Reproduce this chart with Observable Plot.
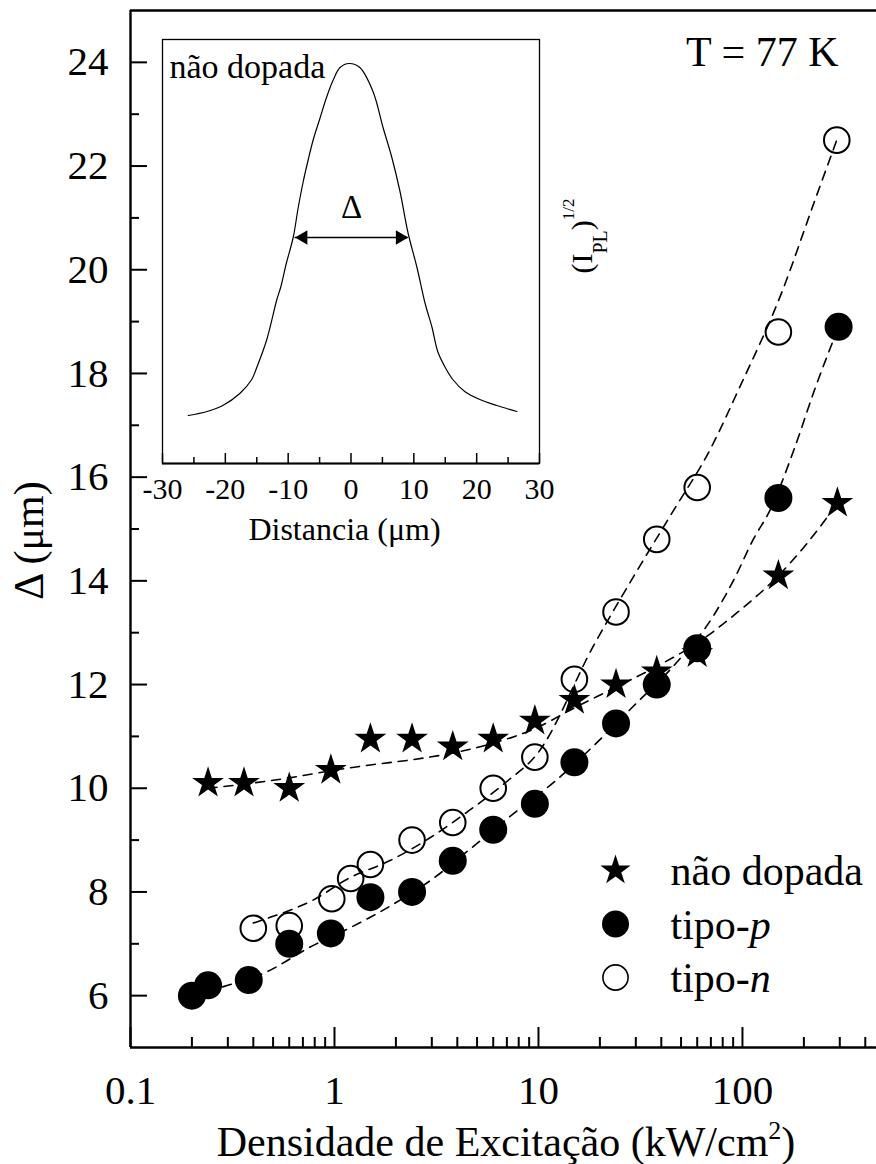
<!DOCTYPE html>
<html><head><meta charset="utf-8">
<script src="https://cdn.jsdelivr.net/npm/d3@7"></script>
<script src="https://cdn.jsdelivr.net/npm/@observablehq/plot@0.6"></script>
<style>
body{margin:0;background:#fff;}
#wrap{position:relative;width:876px;height:1164px;}
#wrap svg{position:absolute;left:0;top:0;}
#wrap svg, #wrap svg text{font-family:'Liberation Serif','Times New Roman',serif !important;}
</style></head><body><div id="wrap"></div>
<script>
// ---------- main chart data (Δ in μm vs excitation density in kW/cm²) ----------
const naoX = [0.24, 0.36, 0.6, 0.96, 1.5, 2.4, 3.8, 6.0, 9.6, 15, 24, 38, 60, 150, 292];
const naoY = [10.1, 10.1, 10.0, 10.35, 10.95, 10.95, 10.8, 10.95, 11.3, 11.7, 12.0, 12.25, 12.6, 14.1, 15.5];
const pX = [0.2, 0.24, 0.38, 0.6, 0.96, 1.5, 2.4, 3.8, 6.0, 9.6, 15, 24, 38, 60, 150, 296];
const pY = [6.0, 6.2, 6.3, 7.0, 7.2, 7.9, 8.0, 8.6, 9.2, 9.7, 10.5, 11.25, 12.0, 12.7, 15.6, 18.9];
const nX = [0.4, 0.6, 0.97, 1.2, 1.5, 2.4, 3.8, 6.0, 9.6, 15, 24, 38, 60, 150, 290];
const nY = [7.3, 7.35, 7.87, 8.26, 8.53, 9.0, 9.34, 10.0, 10.6, 12.1, 13.4, 14.8, 15.8, 18.8, 22.5];

// dashed guide curves
const fitNaoX = [0.24, 0.36, 0.6, 1, 1.5, 2.4, 3.8, 6, 9.6, 15, 24, 38, 60, 95, 150, 210, 292];
const fitNaoY = [10.0, 10.08, 10.2, 10.35, 10.45, 10.55, 10.68, 10.87, 11.15, 11.55, 11.95, 12.35, 12.8, 13.4, 14.1, 14.75, 15.5];
const fitPX = [0.2, 0.3, 0.46, 0.77, 1.18, 1.86, 3, 4.8, 7.6, 12, 19, 29.5, 45, 73, 91.5, 114, 134, 180, 225, 296];
const fitPY = [6.0, 6.2, 6.45, 6.95, 7.3, 7.72, 8.24, 8.88, 9.52, 10.13, 10.85, 11.6, 12.32, 13.36, 14.05, 14.83, 15.3, 16.56, 17.67, 18.9];
const fitNX = [0.4, 0.46, 0.8, 1.17, 1.86, 2.9, 4.5, 7, 9.8, 18.8, 31, 45, 70, 96, 155, 226, 290];
const fitNY = [7.4, 7.48, 7.86, 8.26, 8.6, 9.03, 9.55, 10.13, 10.65, 12.78, 14.25, 15.3, 16.56, 17.7, 19.54, 21.33, 22.5];

const xMajor = [0.1, 1, 10, 100];
const xMinor = [0.2,0.3,0.4,0.5,0.6,0.7,0.8,0.9, 2,3,4,5,6,7,8,9, 20,30,40,50,60,70,80,90, 200,300,400];
const yMajor = [6, 8, 10, 12, 14, 16, 18, 20, 22, 24];
const yMinor = [7, 9, 11, 13, 15, 17, 19, 21, 23];

const legendLabels = ["não dopada", "tipo-p", "tipo-n"];
const legendSymbols = ["star", "circle", "circle"];
const legendFills = ["black", "black", "none"];

// ---------- inset data (profile) ----------
const perfilX = [-25.9, -22.9, -20.4, -17.7, -15.8, -15.0, -13.4, -11.8, -11.2, -10.3, -9.2, -8.4, -7.6, -6.8, -6.0, -4.9, -3.9, -2.8, -1.75, -0.3, 1.4, 3.5, 5.1, 6.5, 7.8, 9.1, 10.5, 11.8, 12.9, 13.8, 15.0, 16.2, 18.1, 20.5, 23.2, 26.4];
const perfilY = [0.12, 0.13, 0.145, 0.175, 0.21, 0.24, 0.31, 0.41, 0.44, 0.50, 0.565, 0.64, 0.705, 0.76, 0.81, 0.865, 0.915, 0.96, 0.99, 1.0, 0.99, 0.93, 0.84, 0.765, 0.68, 0.575, 0.49, 0.40, 0.34, 0.28, 0.24, 0.21, 0.18, 0.16, 0.145, 0.13];
const deltaArrow = [{x1: -8.9, x2: 9.1, y: 0.565}];
const insetMajor = [-30, -20, -10, 0, 10, 20, 30];
const insetMinor = [-25, -15, -5, 5, 15, 25];

const STYLE = "font-family: 'Liberation Serif', 'Times New Roman', serif; background: transparent; color: black;";
const rows = (xs, ys) => xs.map((x, i) => ({x, y: ys[i]}));
const dash = {x: "x", y: "y", curve: "monotone-x", stroke: "black", strokeWidth: 1.6, strokeDasharray: "9,7"};

const legendMarks = legendLabels.flatMap((lab, i) => [
  Plot.dot([lab], {frameAnchor: "top-left", dx: 485, dy: 860 + i * 53.5, symbol: legendSymbols[i],
    r: legendSymbols[i] === "star" ? 9.5 : (legendFills[i] === "none" ? 12.6 : 13.5),
    fill: legendFills[i], stroke: legendFills[i] === "none" ? "black" : null, strokeWidth: 1.6}),
  Plot.text([lab], {frameAnchor: "top-left", dx: 540, dy: 861.5 + i * 53.5, textAnchor: "start", lineAnchor: "middle", fontSize: 42})
]);

const main = Plot.plot({
  width: 876, height: 1164,
  marginLeft: 130, marginRight: 0, marginTop: 10, marginBottom: 117,
  style: STYLE,
  x: {type: "log", domain: [0.1, 454], label: null},
  y: {domain: [5, 25], label: null},
  marks: [
    Plot.ruleX([0.1], {strokeWidth: 2.4}),
    Plot.ruleY([5, 25], {strokeWidth: 2.4}),
    Plot.axisY(yMajor, {tickSize: -17, strokeWidth: 2, tickFormat: () => "", label: null}),
    Plot.axisY(yMinor, {tickSize: -9, strokeWidth: 2, tickFormat: () => "", label: null}),
    Plot.axisY(yMajor, {tickSize: 0, tickPadding: 22, fontSize: 41, tickFormat: d => String(d), label: null}),
    Plot.axisX(xMajor, {tickSize: -20, strokeWidth: 2, tickFormat: () => "", label: null}),
    Plot.axisX(xMinor, {tickSize: -10, strokeWidth: 2, tickFormat: () => "", label: null}),
    Plot.axisX(xMajor, {tickSize: 0, tickPadding: 27, fontSize: 41, tickFormat: d => String(d), label: null}),
    Plot.line(rows(fitNaoX, fitNaoY), dash),
    Plot.line(rows(fitPX, fitPY), dash),
    Plot.line(rows(fitNX, fitNY), dash),
    Plot.dot(rows(nX, nY), {x: "x", y: "y", r: 12.8, fill: "none", stroke: "black", strokeWidth: 2}),
    Plot.dot(rows(naoX, naoY), {x: "x", y: "y", symbol: "star", r: 10, fill: "black"}),
    Plot.dot(rows(pX, pY), {x: "x", y: "y", r: 14, fill: "black"}),
    ...legendMarks,
    Plot.text(["T = 77 K"], {frameAnchor: "top-right", dx: -38, dy: 41.6, textAnchor: "end", lineAnchor: "middle", fontSize: 42}),
    Plot.text(["Δ (μm)"], {frameAnchor: "left", dx: -101.4, dy: 11.5, rotate: -90, textAnchor: "middle", lineAnchor: "middle", fontSize: 42}),
    Plot.text(["Densidade de Excitação (kW/cm2)"], {frameAnchor: "bottom", dx: 2.5, dy: 94.6, textAnchor: "middle", lineAnchor: "middle", fontSize: 42})
  ]
});

const inset = Plot.plot({
  width: 876, height: 1164,
  marginLeft: 162, marginRight: 337, marginTop: 39, marginBottom: 701,
  style: STYLE,
  x: {domain: [-30, 30], label: null},
  y: {domain: [0, 1.06], label: null, axis: null},
  marks: [
    Plot.frame({stroke: "black", strokeWidth: 1.3}),
    Plot.ruleY([0], {strokeWidth: 2}),
    Plot.axisX(insetMajor, {tickSize: -10, strokeWidth: 1.5, tickFormat: () => "", label: null}),
    Plot.axisX(insetMinor, {tickSize: -6, strokeWidth: 1.5, tickFormat: () => "", label: null}),
    Plot.axisX(insetMajor, {tickSize: 0, tickPadding: 14, fontSize: 30, tickFormat: d => String(d), label: null}),
    Plot.line(rows(perfilX, perfilY), {x: "x", y: "y", curve: "catmull-rom", stroke: "black", strokeWidth: 1.2}),
    Plot.ruleY(deltaArrow, {y: "y", x1: "x1", x2: "x2", strokeWidth: 1.3}),
    Plot.dot(deltaArrow, {x: "x2", y: "y", symbol: "triangle", rotate: 90, r: 5.3, fill: "black", dx: -8.2}),
    Plot.dot(deltaArrow, {x: "x1", y: "y", symbol: "triangle", rotate: -90, r: 5.3, fill: "black", dx: 8.2}),
    Plot.text(deltaArrow, {x: d => (d.x1 + d.x2) / 2, y: "y", text: () => "Δ", dy: -29.6, textAnchor: "middle", lineAnchor: "middle", fontSize: 33}),
    Plot.text(["não dopada"], {frameAnchor: "top-left", dx: 7, dy: 28, textAnchor: "start", lineAnchor: "middle", fontSize: 34}),
    Plot.text(["Distancia (μm)"], {frameAnchor: "bottom", dx: -6.5, dy: 66, textAnchor: "middle", lineAnchor: "middle", fontSize: 32}),
    Plot.text(["(IPL)1/2"], {frameAnchor: "top-right", dx: 42.4, dy: 234, rotate: -90, textAnchor: "start", lineAnchor: "middle", fontSize: 30})
  ]
});

function rich(svg, plain, parts) {
  d3.select(svg).selectAll("text").filter(function() { return this.textContent === plain; }).each(function() {
    const t = d3.select(this);
    t.text(null);
    for (const p of parts) {
      const s = t.append("tspan").text(p.t);
      if (p.italic) s.attr("font-style", "italic");
      if (p.size) s.attr("font-size", p.size);
      if (p.dy) s.attr("dy", p.dy);
    }
  });
}
rich(main, "tipo-p", [{t: "tipo-"}, {t: "p", italic: true}]);
rich(main, "tipo-n", [{t: "tipo-"}, {t: "n", italic: true}]);
rich(main, "Densidade de Excitação (kW/cm2)", [{t: "Densidade de Excitação (kW/cm"}, {t: "2", size: 26, dy: -17}, {t: ")", dy: 17}]);
rich(inset, "(IPL)1/2", [{t: "(I"}, {t: "PL", size: 20, dy: 16}, {t: ")", dy: -16}, {t: "1/2", size: 17, dy: -18}]);
for (const s of [main, inset]) d3.select(s).selectAll("text").filter(function() { return this.textContent === ""; }).remove();

const wrap = document.getElementById("wrap");
wrap.appendChild(main);
wrap.appendChild(inset);
</script></body></html>
